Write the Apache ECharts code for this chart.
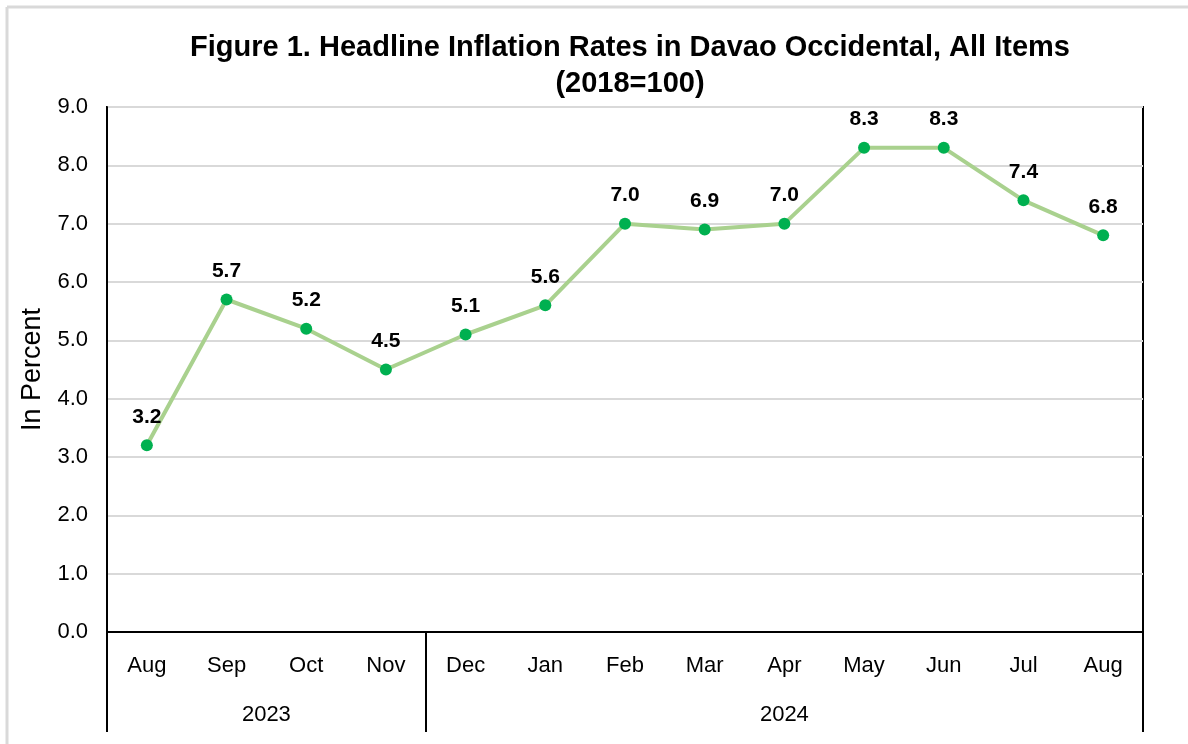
<!DOCTYPE html>
<html>
<head>
<meta charset="utf-8">
<script src="https://cdn.jsdelivr.net/npm/echarts@6/dist/echarts.min.js"></script>
<style>
html,body{margin:0;padding:0;background:#fff;}
#chart{width:1188px;height:744px;}
</style>
</head>
<body>
<div id="chart"></div>
<script>
var months = ['Aug','Sep','Oct','Nov','Dec','Jan','Feb','Mar','Apr','May','Jun','Jul','Aug'];
var inflation = [3.2, 5.7, 5.2, 4.5, 5.1, 5.6, 7.0, 6.9, 7.0, 8.3, 8.3, 7.4, 6.8];
var years = ['2023', '2024'];
var yearSpans = [4, 9];
var yTicks = [0, 1, 2, 3, 4, 5, 6, 7, 8, 9];

var boundaries = [0];
var yearCenters = [];
var acc = 0;
yearSpans.forEach(function (s) {
  yearCenters.push(acc + s / 2);
  acc += s;
  boundaries.push(acc);
});

var FONT = 'Liberation Sans, Arial, sans-serif';
var chart = echarts.init(document.getElementById('chart'));
chart.setOption({
  animation: false,
  backgroundColor: '#fff',
  title: {
    text: 'Figure 1. Headline Inflation Rates in Davao Occidental, All Items\n(2018=100)',
    left: 625,
    top: 25,
    textAlign: 'center',
    textStyle: { fontFamily: FONT, fontSize: 29, fontWeight: 'bold', color: '#000', lineHeight: 36 }
  },
  graphic: [
    { type: 'line', shape: { x1: 7, y1: 7, x2: 1188, y2: 7 }, style: { stroke: '#d9d9d9', lineWidth: 3 } },
    { type: 'line', shape: { x1: 7, y1: 7, x2: 7, y2: 744 }, style: { stroke: '#d9d9d9', lineWidth: 3 } }
  ],
  grid: {
    left: 107, right: 45, top: 107, bottom: 112,
    show: true, borderColor: '#000', borderWidth: 2, backgroundColor: 'transparent'
  },
  xAxis: [
    {
      type: 'category',
      data: months,
      boundaryGap: true,
      axisLine: { show: true, lineStyle: { color: '#000', width: 2 } },
      axisTick: { show: false },
      axisLabel: { color: '#000', fontFamily: FONT, fontSize: 22, margin: 23 },
      splitLine: { show: false }
    },
    {
      type: 'value',
      min: 0,
      max: months.length,
      position: 'bottom',
      axisLine: { show: false },
      splitLine: { show: false },
      axisTick: { show: true, customValues: boundaries, length: 100, lineStyle: { color: '#000', width: 2 } },
      axisLabel: {
        show: true, customValues: yearCenters, color: '#000', fontFamily: FONT, fontSize: 22, margin: 72,
        formatter: function (v) { var i = yearCenters.indexOf(v); return i >= 0 ? years[i] : ''; }
      }
    }
  ],
  yAxis: {
    type: 'value',
    min: yTicks[0],
    max: yTicks[yTicks.length - 1],
    interval: 1,
    name: 'In Percent',
    nameLocation: 'middle',
    nameGap: 57,
    nameRotate: 90,
    nameTextStyle: { color: '#000', fontFamily: FONT, fontSize: 27 },
    axisLine: { show: true, lineStyle: { color: '#000', width: 2 } },
    axisTick: { show: false },
    axisLabel: { color: '#000', fontFamily: FONT, fontSize: 22, margin: 19, formatter: function (v) { return v.toFixed(1); } },
    splitLine: { show: true, lineStyle: { color: '#d9d9d9', width: 2 } }
  },
  series: [{
    type: 'line',
    xAxisIndex: 0,
    data: inflation,
    symbol: 'circle',
    symbolSize: 12,
    lineStyle: { color: '#a9d18e', width: 4 },
    itemStyle: { color: '#00b050' },
    label: {
      show: true, position: 'top', distance: 12, color: '#000', fontFamily: FONT, fontSize: 21, fontWeight: 'bold',
      formatter: function (p) { return p.value.toFixed(1); }
    }
  }]
});
</script>
</body>
</html>
